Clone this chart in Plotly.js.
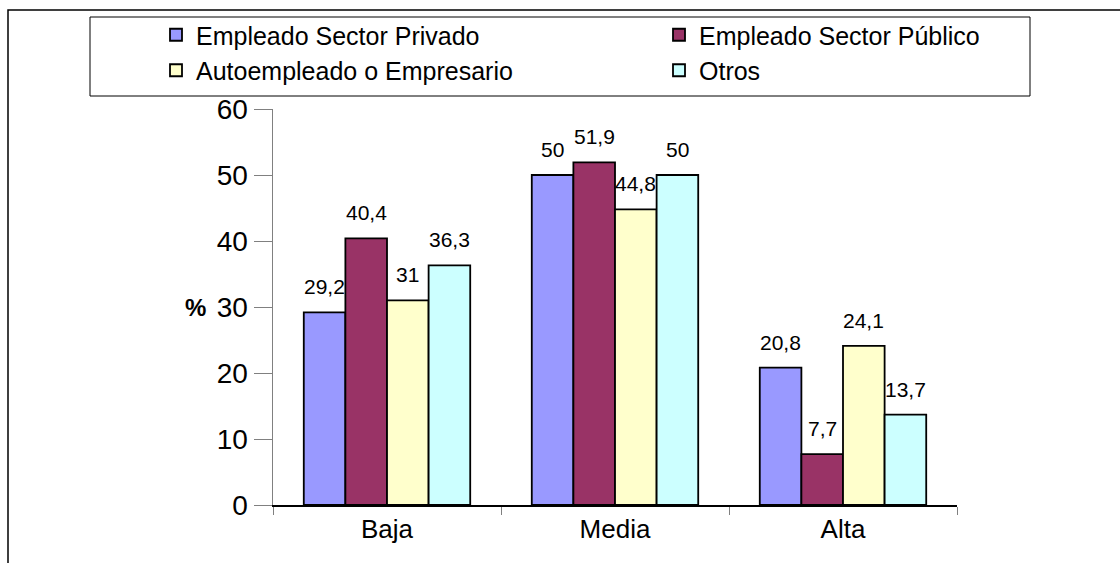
<!DOCTYPE html>
<html><head><meta charset="utf-8">
<script src="https://cdn.plot.ly/plotly-3.0.1.min.js"></script>
<style>html,body{margin:0;padding:0;background:#fff}#chart{width:1120px;height:563px}</style>
</head><body><div id="chart"></div>
<script>
const categories = ['Baja', 'Media', 'Alta'];
const seriesNames = ['Empleado Sector Privado', 'Empleado Sector Público', 'Autoempleado o Empresario', 'Otros'];
const privado = [29.2, 50, 20.8];
const publico = [40.4, 51.9, 7.7];
const autoempleado = [31, 44.8, 24.1];
const otros = [36.3, 50, 13.7];
const yTicks = [0, 10, 20, 30, 40, 50, 60];

const seriesValues = [privado, publico, autoempleado, otros];
const colors = ['#9999FF', '#993366', '#FFFFCC', '#CCFFFF'];
const legendOf = ['legend', 'legend2', 'legend', 'legend2'];
const FONT = 'Liberation Sans, Arial, sans-serif';
const bargap = 0.27;

const traces = seriesValues.map((vals, i) => ({
  type: 'bar', name: seriesNames[i], x: categories, y: vals,
  legend: legendOf[i], legendgroup: 'g' + i,
  marker: {color: colors[i], line: {color: '#000', width: 1.8}},
  hoverinfo: 'skip'
}));

// data labels above bars
const annotations = [];
const gw = 1 - bargap, bw = gw / seriesValues.length;
seriesValues.forEach((vals, i) => {
  vals.forEach((v, j) => {
    annotations.push({
      xref: 'x', yref: 'y', x: j - gw / 2 + bw * (i + 0.5), y: v,
      text: String(v).replace('.', ','), showarrow: false,
      yanchor: 'bottom', yshift: 12,
      font: {family: FONT, size: 21, color: '#000'}
    });
  });
});

const L = 273, R = 957, T = 109, B = 505;
const px = p => (p - L) / (R - L);
const py = p => (B - p) / (B - T);

annotations.push({
  xref: 'paper', yref: 'y', x: px(208), xanchor: 'right', y: 30, text: '<b>%</b>', showarrow: false,
  font: {family: FONT, size: 24, color: '#000'}
});

const legendBase = {
  orientation: 'v', xanchor: 'left', y: py(12), yanchor: 'top',
  font: {family: FONT, size: 25, color: '#000'},
  bgcolor: 'rgba(0,0,0,0)', borderwidth: 0, traceorder: 'grouped', tracegroupgap: 0
};

const layout = {
  width: 1120, height: 563,
  margin: {l: L, r: 1120 - R, t: T, b: 563 - B},
  paper_bgcolor: '#fff', plot_bgcolor: '#fff',
  barmode: 'group', bargap: bargap, bargroupgap: 0,
  showlegend: true,
  legend: Object.assign({}, legendBase, {x: px(156)}),
  legend2: Object.assign({}, legendBase, {x: px(659)}),
  xaxis: {
    type: 'category', tickson: 'boundaries', ticks: 'outside', ticklen: 8, tickcolor: '#808080',
    showline: true, linecolor: '#000', linewidth: 1.5, showgrid: false,
    tickfont: {family: FONT, size: 26, color: '#000'}, fixedrange: true
  },
  yaxis: {
    range: [0, 60], tickvals: yTicks, ticks: 'outside', ticklen: 18, tickcolor: '#808080',
    showline: true, linecolor: '#808080', linewidth: 1.5, showgrid: false, zeroline: false,
    tickfont: {family: FONT, size: 28, color: '#000'}, fixedrange: true
  },
  shapes: [
    {type: 'rect', xref: 'paper', yref: 'paper', x0: px(8), x1: px(1130), y0: py(575), y1: py(10),
     line: {color: '#000', width: 1.5}, fillcolor: 'rgba(0,0,0,0)', layer: 'below'},
    {type: 'rect', xref: 'paper', yref: 'paper', x0: px(90), x1: px(1030), y0: py(96), y1: py(17),
     line: {color: '#000', width: 1}, fillcolor: 'rgba(0,0,0,0)', layer: 'below'}
  ],
  annotations: annotations
};

Plotly.newPlot('chart', traces, layout, {staticPlot: true, displayModeBar: false});
</script></body></html>
